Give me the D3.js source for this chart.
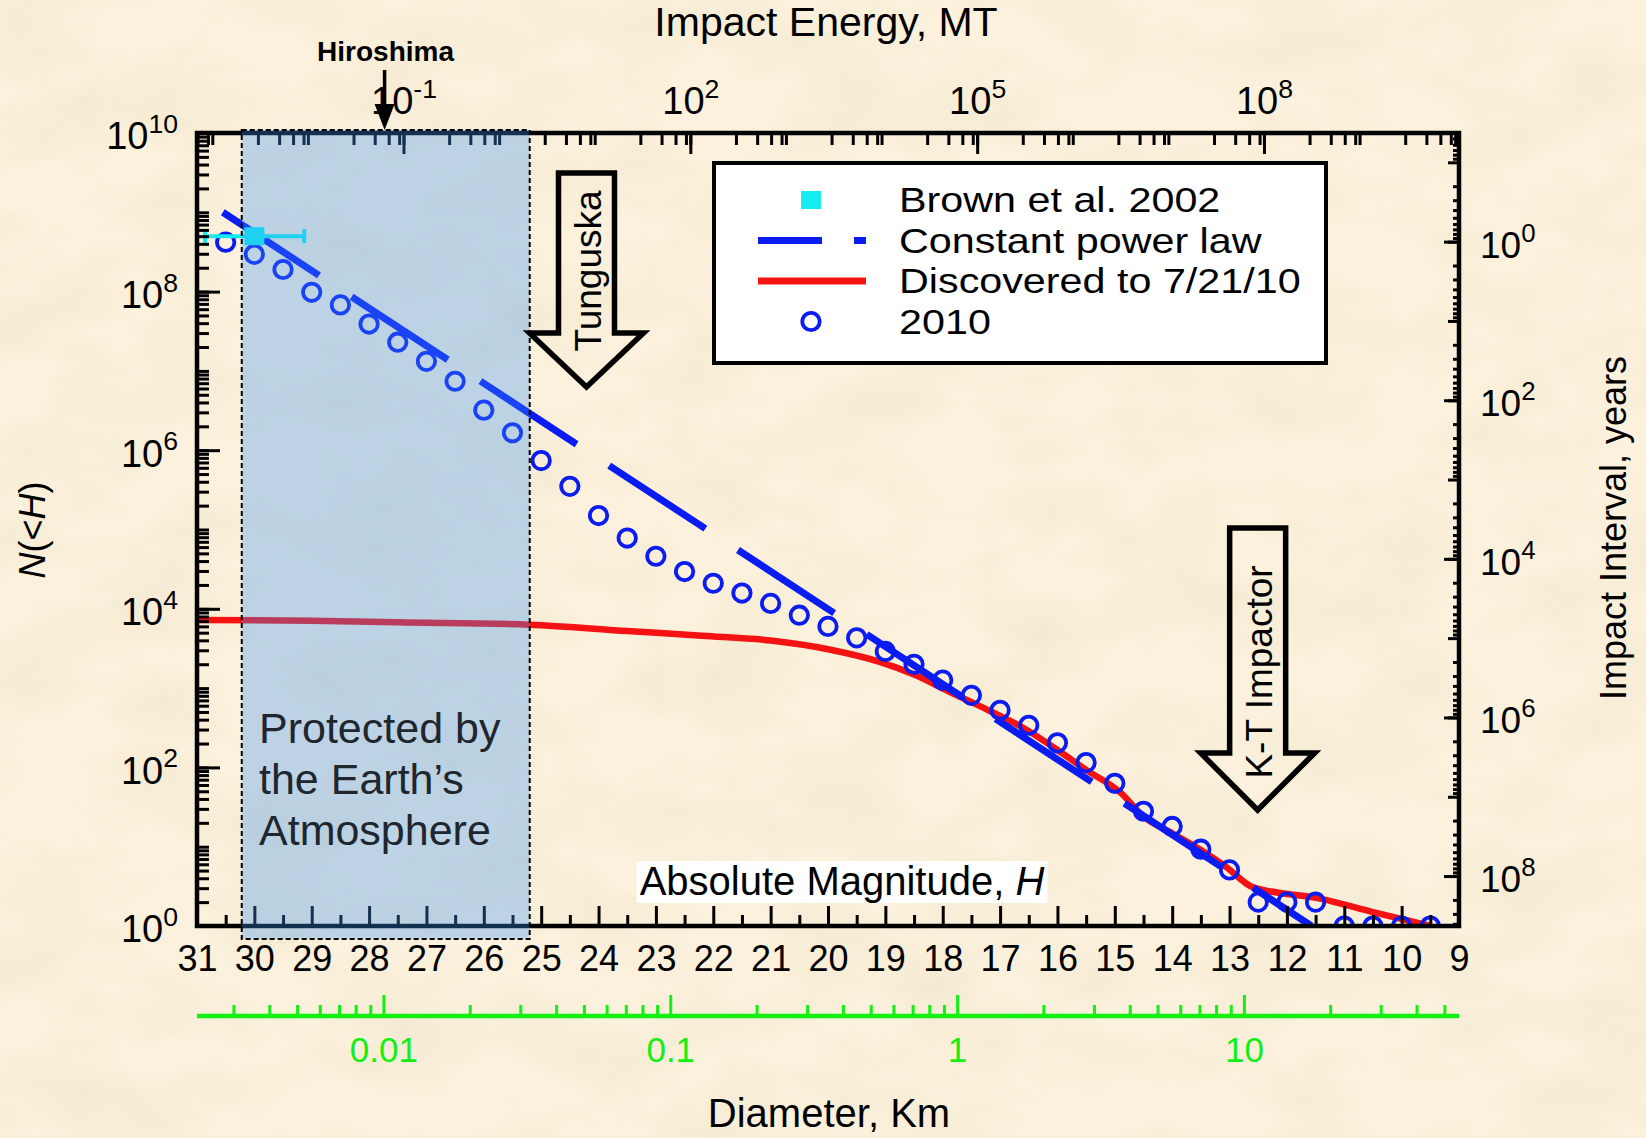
<!DOCTYPE html>
<html>
<head>
<meta charset="utf-8">
<script src="https://cdn.jsdelivr.net/npm/d3@7"></script>
<style>
  body { margin: 0; background: #f8edd6; }
  svg { display: block; }
  text { font-family: "Liberation Sans", Arial, sans-serif; }
</style>
</head>
<body>
<svg id="chart"></svg>
<script>
// 2010 estimate of N(<H), one circle per half magnitude
const circleH = [30.5, 30, 29.5, 29, 28.5, 28, 27.5, 27, 26.5, 26, 25.5, 25, 24.5, 24, 23.5, 23, 22.5, 22,
                 21.5, 21, 20.5, 20, 19.5, 19, 18.5, 18, 17.5, 17, 16.5, 16, 15.5, 15, 14.5, 14, 13.5, 13,
                 12.5, 12, 11.5, 11, 10.5, 10, 9.5]
const circleN = [4.2e8, 2.95e8, 1.9e8, 9.8e7, 6.8e7, 3.9e7, 2.3e7, 1.32e7, 7.4e6, 3.2e6, 1.66e6, 7.4e5, 3.5e5,
                 1.5e5, 7.8e4, 4.6e4, 2.95e4, 2.1e4, 1.58e4, 1.17e4, 8300, 6000, 4300, 2900, 2000, 1260, 810,
                 525, 340, 204, 115, 63, 28, 18, 9.3, 5.1, 2, 2, 2, 1, 1, 1, 1]

// discovered to 7/21/10
const discH = [31, 29, 27.5, 25.2, 23.5, 22.2, 21.0, 20.0, 19.1, 18.5, 17.9, 17.2, 16.6, 16.0, 15.5, 14.9,
               14.5, 14.0, 13.5, 13.05, 12.6, 11.4, 10.5, 9.5]
const discN = [7240, 7080, 6760, 6310, 5250, 4570, 3980, 3090, 2140, 1480, 912, 525, 316, 166, 93, 48,
               24, 14.8, 9.1, 5.5, 3.1, 2.2, 1.5, 1]

// constant power law (end points)
const powerH = [30.55, 11.57]
const powerN = [1e9, 1]

// Brown et al. 2002
const brownH = 30.0
const brownN = 5e8
const brownHRange = [30.86, 29.13]

// annotations
const atmosphereH = [30.22, 25.2]
const hiroshimaH = 27.73
const tunguskaH = 24.21
const ktH = 12.51

const legendLabels = ['Brown et al. 2002', 'Constant power law', 'Discovered to 7/21/10', '2010']
const hTicks = [31, 30, 29, 28, 27, 26, 25, 24, 23, 22, 21, 20, 19, 18, 17, 16, 15, 14, 13, 12, 11, 10, 9]
const nLabelTicks = [1, 1e2, 1e4, 1e6, 1e8, 1e10]
const energyLabelTicks = [1e-1, 1e2, 1e5, 1e8]
const intervalLabelTicks = [1, 1e2, 1e4, 1e6, 1e8]
const diameterLabelTicks = [0.01, 0.1, 1, 10]

let width = 1646, height = 1138
let frame = { left: 197, right: 1459, top: 133, bottom: 926 }

let x = d3.scaleLinear().domain([31, 9]).range([frame.left, frame.right])
let y = d3.scaleLog().domain([1, 1e10]).range([frame.bottom, frame.top])

// secondary scales, tied to H
let energyAt = h => Math.pow(10, 15.44 - 0.6 * h)
let diamAt = h => Math.pow(10, (17.75 - h) / 5)
let intervalConst = Math.pow(10, 8.63)
let xE = d3.scaleLog().domain([energyAt(31), energyAt(9)]).range([frame.left, frame.right])
let xD = d3.scaleLog().domain([diamAt(31), diamAt(9)]).range([frame.left, frame.right])
let yT = d3.scaleLog().domain([intervalConst / 1e10, intervalConst]).range([frame.top, frame.bottom])

function logTicks(scale, mults) {
    let [a, b] = scale.domain()
    let out = []
    for (let k = Math.floor(Math.log10(a)) - 1; k <= Math.ceil(Math.log10(b)); k++) {
        mults.forEach(m => {
            let v = m * Math.pow(10, k)
            if (v >= a * 0.999 && v <= b * 1.001) out.push(v)
        })
    }
    return out
}

function sup(sel) {
    sel.each(function(d) {
        let t = d3.select(this)
        let e = Math.round(Math.log10(d))
        t.text(null)
        t.append('tspan').text('10')
        t.append('tspan').attr('dy', '-0.62em').attr('font-size', '0.7em').text(e)
    })
}

const svg = d3.select('#chart').attr('width', width).attr('height', height)
const defs = svg.append('defs')

// paper texture
let paper = defs.append('filter').attr('id', 'paper').attr('x', 0).attr('y', 0).attr('width', '100%').attr('height', '100%')
paper.append('feTurbulence').attr('type', 'fractalNoise').attr('baseFrequency', '0.009 0.014').attr('numOctaves', 4).attr('seed', 11)
paper.append('feColorMatrix').attr('type', 'matrix')
    .attr('values', '0 0 0 0 0.85  0 0 0 0 0.76  0 0 0 0 0.58  1.6 0 0 0 -0.62')

defs.append('clipPath').attr('id', 'plotClip').append('rect')
    .attr('x', frame.left).attr('y', frame.top)
    .attr('width', frame.right - frame.left).attr('height', frame.bottom - frame.top)

svg.append('rect').attr('width', width).attr('height', height).attr('fill', '#fbf1dc')
svg.append('rect').attr('width', width).attr('height', height).attr('filter', 'url(#paper)').attr('opacity', 0.55)

const plot = svg.append('g').attr('clip-path', 'url(#plotClip)')

// red line
let line = d3.line().x(d => x(d[0])).y(d => y(d[1])).curve(d3.curveMonotoneX)
plot.append('path')
    .datum(discH.map((h, i) => [h, discN[i]]))
    .attr('d', line)
    .attr('fill', 'none')
    .attr('stroke', '#f51212')
    .attr('stroke-width', 6.5)

// power law
plot.append('path')
    .datum(powerH.map((h, i) => [h, powerN[i]]))
    .attr('d', d3.line().x(d => x(d[0])).y(d => y(d[1])))
    .attr('stroke', '#0a1cf2')
    .attr('stroke-width', 7)
    .attr('stroke-dasharray', '115 39')

// Brown et al.
let brown = svg.append('g')
brown.append('line')
    .attr('x1', x(brownHRange[0])).attr('x2', x(brownHRange[1]))
    .attr('y1', y(brownN)).attr('y2', y(brownN))
    .attr('stroke', '#14ecef').attr('stroke-width', 4)
brownHRange.forEach(h => brown.append('line')
    .attr('x1', x(h)).attr('x2', x(h))
    .attr('y1', y(brownN) - 7).attr('y2', y(brownN) + 7)
    .attr('stroke', '#14ecef').attr('stroke-width', 4))
brown.append('rect')
    .attr('x', x(brownH) - 10).attr('y', y(brownN) - 9)
    .attr('width', 20).attr('height', 18)
    .attr('fill', '#14ecef')

// circles
plot.selectAll('circle.c2010')
    .data(circleH.map((h, i) => [h, circleN[i]]))
    .join('circle')
    .attr('class', 'c2010')
    .attr('cx', d => x(d[0]))
    .attr('cy', d => y(d[1]))
    .attr('r', 8.7)
    .attr('fill', 'none')
    .attr('stroke', '#0a1cf2')
    .attr('stroke-width', 3.8)

// ---- axes ----
function styleAxis(g) {
    g.select('.domain').remove()
    g.selectAll('.tick line').attr('stroke', '#000').attr('stroke-width', 3)
    g.selectAll('.tick text').attr('fill', '#000')
}

// bottom H axis
let hAxis = svg.append('g').attr('transform', `translate(0,${frame.bottom})`)
hAxis.call(d3.axisBottom(x).tickValues(hTicks.slice(0, -1).map(h => h - 0.5)).tickSize(-11).tickFormat(''))
    .call(styleAxis)
let hAxisMajor = svg.append('g').attr('transform', `translate(0,${frame.bottom})`)
hAxisMajor.call(d3.axisBottom(x).tickValues(hTicks).tickSize(-20).tickPadding(19).tickFormat(d3.format('d')))
    .call(styleAxis)
hAxisMajor.selectAll('.tick text').attr('font-size', 36)

// left N axis
svg.append('g').attr('transform', `translate(${frame.left},0)`)
    .call(d3.axisLeft(y).tickValues(logTicks(y, [1, 2, 3, 4, 5, 6, 7, 8, 9])).tickSize(-12).tickFormat(''))
    .call(styleAxis)
let nAxis = svg.append('g').attr('transform', `translate(${frame.left},0)`)
nAxis.call(d3.axisLeft(y).tickValues(nLabelTicks).tickSize(-23).tickPadding(19))
    .call(styleAxis)
nAxis.selectAll('.tick text').attr('font-size', 38).attr('dy', '0.42em').call(sup)

// right interval axis
svg.append('g').attr('transform', `translate(${frame.right},0)`)
    .call(d3.axisRight(yT).tickValues(logTicks(yT, [2, 3, 4, 5, 6, 7, 8, 9])).tickSize(-6).tickFormat(''))
    .call(styleAxis)
svg.append('g').attr('transform', `translate(${frame.right},0)`)
    .call(d3.axisRight(yT).tickValues(logTicks(yT, [1])).tickSize(-11).tickFormat(''))
    .call(styleAxis)
let tAxis = svg.append('g').attr('transform', `translate(${frame.right},0)`)
tAxis.call(d3.axisRight(yT).tickValues(intervalLabelTicks).tickSize(-15).tickPadding(21))
    .call(styleAxis)
tAxis.selectAll('.tick text').attr('font-size', 37).attr('dy', '0.42em').call(sup)

// top energy axis
svg.append('g').attr('transform', `translate(0,${frame.top})`)
    .call(d3.axisTop(xE).tickValues(logTicks(xE, [1, 3, 5, 7, 9])).tickSize(-12).tickFormat(''))
    .call(styleAxis)
let eAxis = svg.append('g').attr('transform', `translate(0,${frame.top})`)
eAxis.call(d3.axisTop(xE).tickValues(energyLabelTicks).tickSize(-21).tickPadding(19))
    .call(styleAxis)
eAxis.selectAll('.tick text').attr('font-size', 38).call(sup)

// frame
svg.append('rect')
    .attr('x', frame.left).attr('y', frame.top)
    .attr('width', frame.right - frame.left).attr('height', frame.bottom - frame.top)
    .attr('fill', 'none').attr('stroke', '#000').attr('stroke-width', 4.5)

// green diameter axis
let dY = 1016
let dAxis = svg.append('g').attr('transform', `translate(0,${dY})`)
dAxis.call(d3.axisBottom(xD).tickValues(logTicks(xD, [2, 3, 4, 5, 6, 7, 8, 9])).tickSize(-11).tickFormat(''))
dAxis.select('.domain').remove()
dAxis.selectAll('.tick line').attr('stroke', '#12f012').attr('stroke-width', 3)
let dAxisMajor = svg.append('g').attr('transform', `translate(0,${dY})`)
dAxisMajor.call(d3.axisBottom(xD).tickValues(diameterLabelTicks).tickSize(-21).tickPadding(21).tickFormat(d3.format('~g')))
dAxisMajor.select('.domain').remove()
dAxisMajor.selectAll('.tick line').attr('stroke', '#12f012').attr('stroke-width', 3)
dAxisMajor.selectAll('.tick text').attr('fill', '#12f012').attr('font-size', 35)
svg.append('line')
    .attr('x1', frame.left).attr('x2', frame.right).attr('y1', dY).attr('y2', dY)
    .attr('stroke', '#12f012').attr('stroke-width', 4.5)

// atmosphere box (translucent, over the axes)
let atmX0 = x(atmosphereH[0]), atmX1 = x(atmosphereH[1])
svg.append('rect')
    .attr('x', atmX0).attr('y', frame.top - 3)
    .attr('width', atmX1 - atmX0).attr('height', frame.bottom + 13 - frame.top + 3)
    .attr('fill', 'rgb(60,150,250)').attr('opacity', 0.32)
svg.append('rect')
    .attr('x', atmX0).attr('y', frame.top - 3)
    .attr('width', atmX1 - atmX0).attr('height', frame.bottom + 13 - frame.top + 3)
    .attr('fill', 'none').attr('stroke', '#000').attr('stroke-width', 2).attr('stroke-dasharray', '5 3')

let prot = svg.append('text').attr('font-size', 43).attr('fill', '#20262e')
;['Protected by', 'the Earth\u2019s', 'Atmosphere'].forEach((s, i) =>
    prot.append('tspan').attr('x', 259).attr('y', 743 + i * 51).text(s))

// block arrows
function blockArrow(cx, top, neck, tip, shaft, head) {
    return `M${cx - shaft},${top} L${cx - shaft},${neck} L${cx - head},${neck} L${cx},${tip} ` +
           `L${cx + head},${neck} L${cx + shaft},${neck} L${cx + shaft},${top} Z`
}
let arrows = [
    { h: tunguskaH, top: 173, neck: 333, tip: 387, label: 'Tunguska', ty: 271 },
    { h: ktH, top: 528, neck: 753, tip: 810, label: 'K-T Impactor', ty: 672 }
]
arrows.forEach(a => {
    let cx = x(a.h)
    svg.append('path')
        .attr('d', blockArrow(cx, a.top, a.neck, a.tip, 28, 57))
        .attr('fill', 'none').attr('stroke', '#000').attr('stroke-width', 5.5)
        .attr('stroke-linejoin', 'miter')
    svg.append('text')
        .attr('transform', `translate(${cx + 1},${a.ty}) rotate(-90)`)
        .attr('text-anchor', 'middle').attr('dy', '0.36em')
        .attr('font-size', 37).text(a.label)
})

// Hiroshima
let hx = x(hiroshimaH)
svg.append('line').attr('x1', hx).attr('x2', hx).attr('y1', 70).attr('y2', 110)
    .attr('stroke', '#000').attr('stroke-width', 3.5)
svg.append('path').attr('d', `M${hx - 10},${104} L${hx + 10},${104} L${hx},${130} Z`).attr('fill', '#000')
svg.append('text').attr('x', hx + 1).attr('y', 61).attr('text-anchor', 'middle')
    .attr('font-size', 28).attr('font-weight', 'bold').text('Hiroshima')

// titles
svg.append('text').attr('x', 826).attr('y', 36).attr('text-anchor', 'middle').attr('font-size', 41)
    .text('Impact Energy, MT')
svg.append('text').attr('transform', 'translate(1626,528) rotate(-90)').attr('text-anchor', 'middle')
    .attr('font-size', 36).text('Impact Interval, years')
let nTitle = svg.append('text').attr('transform', 'translate(45,530) rotate(-90)').attr('text-anchor', 'middle')
    .attr('font-size', 36)
nTitle.append('tspan').attr('font-style', 'italic').text('N')
nTitle.append('tspan').text('(<')
nTitle.append('tspan').attr('font-style', 'italic').text('H')
nTitle.append('tspan').text(')')
svg.append('text').attr('x', 829).attr('y', 1127).attr('text-anchor', 'middle').attr('font-size', 40)
    .text('Diameter, Km')

let absBox = svg.append('rect').attr('fill', '#fff')
let absText = svg.append('text').attr('x', 842).attr('y', 895).attr('text-anchor', 'middle').attr('font-size', 40)
absText.append('tspan').text('Absolute Magnitude, ')
absText.append('tspan').attr('font-style', 'italic').text('H')
let bb = absText.node().getBBox()
absBox.attr('x', bb.x - 3).attr('y', bb.y + 2).attr('width', bb.width + 6).attr('height', bb.height - 2)

// legend
let lg = svg.append('g')
lg.append('rect').attr('x', 714).attr('y', 163).attr('width', 612).attr('height', 200)
    .attr('fill', '#fff').attr('stroke', '#000').attr('stroke-width', 4)
let rowY = i => 200 + i * 40.5
legendLabels.forEach((s, i) => lg.append('text')
    .attr('transform', `translate(899,${rowY(i) + 12}) scale(1.18,1)`)
    .attr('font-size', 35).text(s))
lg.append('rect').attr('x', 801).attr('y', rowY(0) - 9).attr('width', 20).attr('height', 18).attr('fill', '#14ecef')
lg.append('line').attr('x1', 758).attr('x2', 822).attr('y1', rowY(1)).attr('y2', rowY(1))
    .attr('stroke', '#0a1cf2').attr('stroke-width', 7)
lg.append('line').attr('x1', 854).attr('x2', 866).attr('y1', rowY(1)).attr('y2', rowY(1))
    .attr('stroke', '#0a1cf2').attr('stroke-width', 7)
lg.append('line').attr('x1', 758).attr('x2', 866).attr('y1', rowY(2)).attr('y2', rowY(2))
    .attr('stroke', '#f51212').attr('stroke-width', 7)
lg.append('circle').attr('cx', 811).attr('cy', rowY(3)).attr('r', 8.7)
    .attr('fill', 'none').attr('stroke', '#0a1cf2').attr('stroke-width', 3.8)
</script>
</body>
</html>
